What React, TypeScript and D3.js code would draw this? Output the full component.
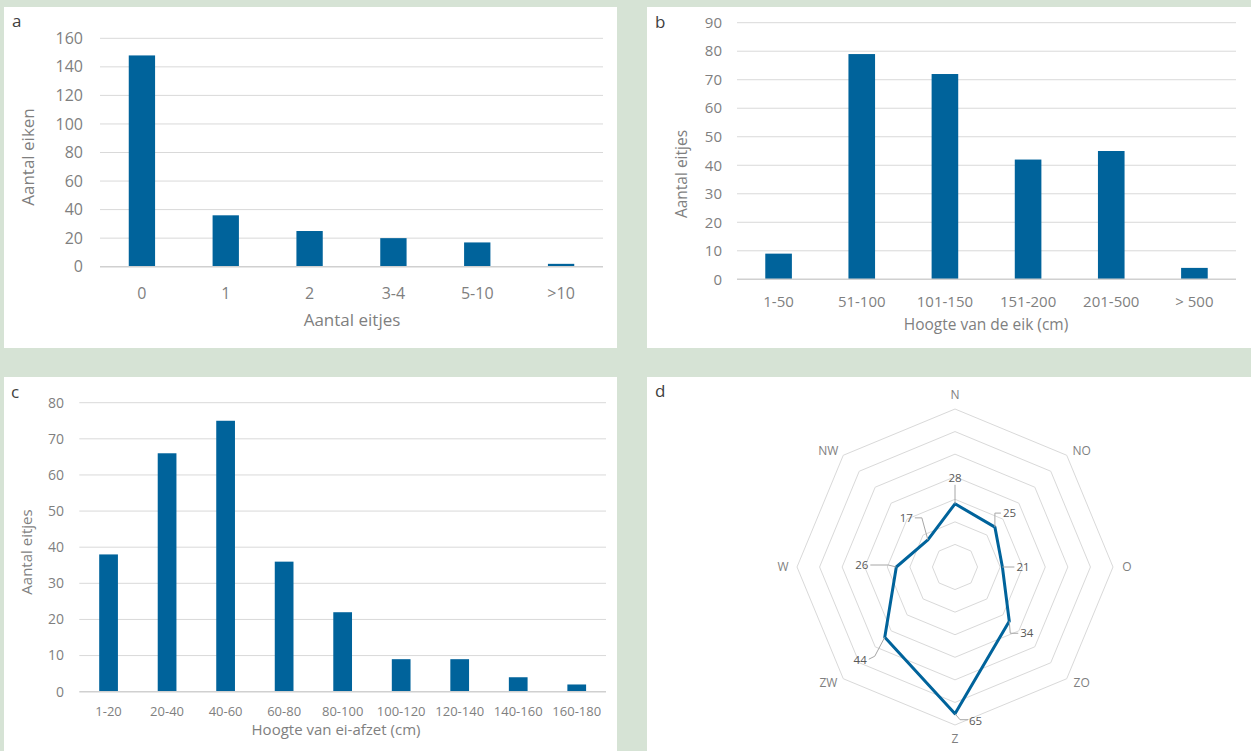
import React, { useEffect } from 'react';
import * as d3 from 'd3';

// ---------- DATA ----------
const catsA = ['0', '1', '2', '3-4', '5-10', '>10'];
const valsA = [148, 36, 25, 20, 17, 2];
const ticksA = [0, 20, 40, 60, 80, 100, 120, 140, 160];

const catsB = ['1-50', '51-100', '101-150', '151-200', '201-500', '> 500'];
const valsB = [9, 79, 72, 42, 45, 4];
const ticksB = [0, 10, 20, 30, 40, 50, 60, 70, 80, 90];

const catsC = ['1-20', '20-40', '40-60', '60-80', '80-100', '100-120', '120-140', '140-160', '160-180'];
const valsC = [38, 66, 75, 36, 22, 9, 9, 4, 2];
const ticksC = [0, 10, 20, 30, 40, 50, 60, 70, 80];

const dirs = ['N', 'NO', 'O', 'ZO', 'Z', 'ZW', 'W', 'NW'];
const dirVals = [28, 25, 21, 34, 65, 44, 26, 17];
const rings = [10, 20, 30, 40, 50, 60, 70];

// ---------- STYLE ----------
const BLUE = '#00639b';
const BG = '#d6e3d5';
const GRID = '#d9d9d9';
const TXT = '#7f7f7f';
const FONT = '"Open Sans", "Segoe UI", sans-serif';

type BarProps = {
  letter: string;
  letterPos: [number, number];
  cats: string[];
  vals: number[];
  ticks: number[];
  x0: number; x1: number; yTop: number; yBot: number;
  tickEnd: number;
  yFont: number;
  xFont: number;
  xLabelY: number;
  title: string; titleX: number; titleY: number; titleFont: number;
  yTitle: string; yTitleX: number; yTitleY: number; yTitleFont: number;
  pad: number;
};

function BarPanel(p: BarProps) {
  const x = d3.scaleBand<string>().domain(p.cats).range([p.x0, p.x1]).paddingInner(p.pad).paddingOuter(p.pad / 2);
  const y = d3.scaleLinear().domain([0, p.ticks[p.ticks.length - 1]]).range([p.yBot, p.yTop]);
  return (
    <g fontFamily={FONT}>
      <text x={p.letterPos[0]} y={p.letterPos[1]} fontSize={17} fill="#404040">{p.letter}</text>
      {p.ticks.map((t) => (
        <g key={t}>
          {t !== 0 && <line x1={p.x0} x2={p.x1} y1={y(t)} y2={y(t)} stroke={GRID} strokeWidth={1} />}
          <text x={p.tickEnd} y={y(t)} dy="0.35em" textAnchor="end" fontSize={p.yFont} fill={TXT}>{t}</text>
        </g>
      ))}
      {p.cats.map((c, i) => (
        <rect key={c} x={x(c)} width={x.bandwidth()} y={y(p.vals[i])} height={y(0) - y(p.vals[i])} fill={BLUE} />
      ))}
      <line x1={p.x0} x2={p.x1} y1={y(0)} y2={y(0)} stroke="#d0d0d0" strokeWidth={1.5} />
      {p.cats.map((c) => (
        <text key={c} x={(x(c) as number) + x.bandwidth() / 2} y={p.xLabelY} dy="0.35em" textAnchor="middle" fontSize={p.xFont} fill={TXT}>{c}</text>
      ))}
      <text x={p.titleX} y={p.titleY} dy="0.35em" textAnchor="middle" fontSize={p.titleFont} fill={TXT}>{p.title}</text>
      <text transform={`translate(${p.yTitleX},${p.yTitleY}) rotate(-90)`} dy="0.35em" textAnchor="middle" fontSize={p.yTitleFont} fill={TXT}>{p.yTitle}</text>
    </g>
  );
}

// label placement for radar data labels (layout only)
const labelLayout: { leader: [number, number][]; dx: number; dy: number; anchor: string }[] = [
  { leader: [[0, 0], [0, -19]], dx: 0, dy: -26, anchor: 'middle' },
  { leader: [[0, 0], [0, -14], [6, -14]], dx: 8, dy: -14, anchor: 'start' },
  { leader: [[0, 0], [12, 0]], dx: 14, dy: 0, anchor: 'start' },
  { leader: [[0, 0], [1, 12], [9, 12]], dx: 11, dy: 12, anchor: 'start' },
  { leader: [[0, 0], [5, 6], [13, 6]], dx: 14, dy: 7, anchor: 'start' },
  { leader: [[0, 0], [-10, 19], [-16, 22]], dx: -18, dy: 23, anchor: 'end' },
  { leader: [[0, 0], [-8, -2], [-26, -2]], dx: -28, dy: -2, anchor: 'end' },
  { leader: [[0, 0], [-6, -22], [-13, -22]], dx: -15, dy: -22, anchor: 'end' },
];

function RadarPanel() {
  const cx = 955, cy = 567, R = 158;
  const r = d3.scaleLinear().domain([0, rings[rings.length - 1]]).range([0, R]);
  const ang = (i: number) => (i * 2 * Math.PI) / dirs.length;
  const pt = (i: number, v: number): [number, number] => [cx + r(v) * Math.sin(ang(i)), cy - r(v) * Math.cos(ang(i))];
  const lineGen = d3.line<number>().x((v, i) => pt(i, v)[0]).y((v, i) => pt(i, v)[1]).curve(d3.curveLinearClosed);
  return (
    <g fontFamily={FONT}>
      <text x={655} y={397} fontSize={17} fill="#404040">d</text>
      {rings.map((rv) => (
        <path key={rv} d={lineGen(dirs.map(() => rv)) as string} fill="none" stroke={GRID} strokeWidth={1} />
      ))}
      {dirs.map((d, i) => {
        const lr = 172;
        const sx = Math.sin(ang(i)), sy = Math.cos(ang(i));
        const diag = Math.abs(sx) > 0.1 && Math.abs(sy) > 0.1;
        const lx = cx + lr * sx + (diag ? Math.sign(sx) * 5 : 0);
        const ly = cy - lr * sy + (diag ? Math.sign(sy) * 5.5 : 0);
        return <text key={d} x={lx} y={ly} dy="0.35em" textAnchor="middle" fontSize={12} fill={TXT}>{d}</text>;
      })}
      <path d={lineGen(dirVals) as string} fill="none" stroke={BLUE} strokeWidth={3} strokeLinejoin="round" />
      {dirVals.map((v, i) => {
        const [px, py] = pt(i, v);
        const L = labelLayout[i];
        const pts = L.leader.map(([a, b]) => `${px + a},${py + b}`).join(' ');
        return (
          <g key={i}>
            <polyline points={pts} fill="none" stroke="#a6a6a6" strokeWidth={1} />
            <text x={px + L.dx} y={py + L.dy} dy="0.35em" textAnchor={L.anchor} fontSize={11.5} fill="#595959">{v}</text>
          </g>
        );
      })}
    </g>
  );
}

export default function App() {
  useEffect(() => {
    document.body.style.margin = '0';
    document.body.style.overflow = 'hidden';
  }, []);
  return (
    <svg width={1251} height={751} style={{ position: 'absolute', left: 0, top: 0, display: 'block' }}>
      <rect x={0} y={0} width={1251} height={751} fill={BG} />
      <rect x={4} y={7} width={613} height={341} fill="#fff" />
      <rect x={647} y={7} width={604} height={341} fill="#fff" />
      <rect x={4} y={377} width={613} height={374} fill="#fff" />
      <rect x={647} y={377} width={604} height={374} fill="#fff" />
      <BarPanel letter="a" letterPos={[12, 27]} cats={catsA} vals={valsA} ticks={ticksA}
        x0={100} x1={603} yTop={38.3} yBot={266.7} tickEnd={83} yFont={16} xFont={16} xLabelY={293}
        title="Aantal eitjes" titleX={352} titleY={320} titleFont={17}
        yTitle="Aantal eiken" yTitleX={28} yTitleY={157} yTitleFont={17} pad={0.686} />
      <BarPanel letter="b" letterPos={[655, 28]} cats={catsB} vals={valsB} ticks={ticksB}
        x0={737} x1={1236} yTop={22.7} yBot={279.3} tickEnd={722} yFont={15} xFont={15} xLabelY={301.5}
        title="Hoogte van de eik (cm)" titleX={986} titleY={325} titleFont={15.5}
        yTitle="Aantal eitjes" yTitleX={682} yTitleY={174} yTitleFont={15.5} pad={0.68} />
      <BarPanel letter="c" letterPos={[11, 398]} cats={catsC} vals={valsC} ticks={ticksC}
        x0={79.3} x1={606} yTop={402.7} yBot={691.7} tickEnd={64} yFont={14} xFont={13} xLabelY={711.5}
        title="Hoogte van ei-afzet (cm)" titleX={336} titleY={730} titleFont={15}
        yTitle="Aantal eitjes" yTitleX={27} yTitleY={552} yTitleFont={15} pad={0.68} />
      <RadarPanel />
    </svg>
  );
}
